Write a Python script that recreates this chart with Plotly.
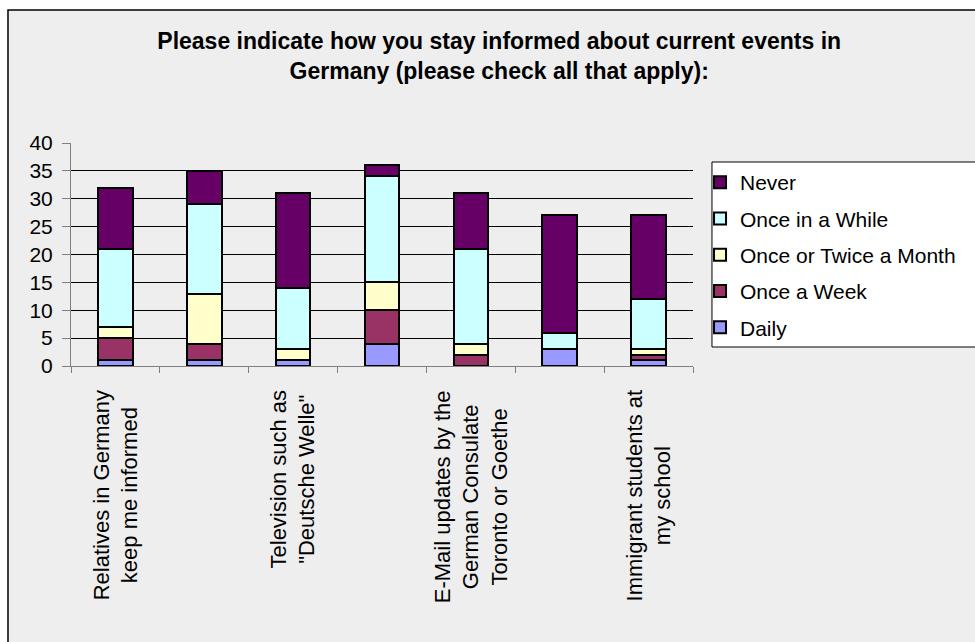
import plotly.graph_objects as go

# Survey: how respondents stay informed about current events in Germany
categories = [
    "Relatives in Germany<br>keep me informed",
    "",
    "Television such as<br>\"Deutsche Welle\"",
    "",
    "E-Mail updates by the<br>German Consulate<br>Toronto or Goethe",
    "",
    "Immigrant students at<br>my school",
]

daily = [1, 1, 1, 4, 0, 3, 1]
once_a_week = [4, 3, 0, 6, 2, 0, 1]
once_or_twice_a_month = [2, 9, 2, 5, 2, 0, 1]
once_in_a_while = [14, 16, 11, 19, 17, 3, 9]
never = [11, 6, 17, 2, 10, 21, 15]

series = [
    ("Daily", daily, "#9999FF"),
    ("Once a Week", once_a_week, "#993366"),
    ("Once or Twice a Month", once_or_twice_a_month, "#FFFFCC"),
    ("Once in a While", once_in_a_while, "#CCFFFF"),
    ("Never", never, "#660066"),
]

y_ticks = [0, 5, 10, 15, 20, 25, 30, 35, 40]

FONT = "Liberation Sans, Arial, sans-serif"
x_pos = list(range(len(categories)))

fig = go.Figure()
n = len(series)
for k, (name, vals, color) in enumerate(series):
    fig.add_trace(go.Bar(
        x=x_pos, y=vals, name=name, legendgroup=name,
        legendrank=n - k,  # top of the stack listed first
        width=0.39,
        marker=dict(color=color, line=dict(color="black", width=2)),
    ))

# Category labels, rotated and centred under each labelled bar
for i, label in enumerate(categories):
    if label:
        fig.add_annotation(
            x=i, y=-0.098, xref="x", yref="paper",
            text=label, textangle=-90, showarrow=False,
            xanchor="center", yanchor="top", align="center",
            font=dict(family=FONT, size=22, color="black"),
        )

# Chart frame and legend box
fig.add_shape(type="rect", xref="paper", yref="paper",
              x0=-0.1013, x1=1.5, y0=-1.5, y1=1.5964,
              fillcolor="#EEEEEE", line=dict(color="black", width=1.5),
              layer="below")
fig.add_shape(type="rect", xref="paper", yref="paper",
              x0=1.0305, x1=1.5, y0=0.0852, y1=0.9148,
              fillcolor="white", line=dict(color="black", width=1),
              layer="below")

fig.update_layout(
    width=975, height=642,
    barmode="stack",
    paper_bgcolor="white",
    plot_bgcolor="rgba(0,0,0,0)",
    margin=dict(l=71, r=282, t=143, b=276, autoexpand=False),
    title=dict(
        text="Please indicate how you stay informed about current events in<br>"
             "Germany (please check all that apply):",
        x=0.512, y=0.923, xref="container", yref="container",
        xanchor="center", yanchor="middle",
        font=dict(family=FONT, size=23, color="black", weight="bold"),
    ),
    font=dict(family=FONT, color="black"),
    showlegend=True,
    legend=dict(
        x=1.0113, y=0.9148, xanchor="left", yanchor="top",
        xref="paper", yref="paper",
        bgcolor="rgba(0,0,0,0)", borderwidth=0,
        traceorder="grouped", tracegroupgap=6,
        font=dict(family=FONT, size=21, color="black"),
    ),
    xaxis=dict(
        range=[-0.5, 6.5],
        tickmode="array",
        tickvals=[v - 0.5 for v in range(len(categories) + 1)],
        showticklabels=False,
        ticks="outside", ticklen=6, tickcolor="#808080", tickwidth=1,
        showline=True, linecolor="#808080", linewidth=1,
        showgrid=False, zeroline=False,
    ),
    yaxis=dict(
        range=[0, 40],
        tickmode="array", tickvals=y_ticks,
        ticks="outside", ticklen=8, tickcolor="#808080", tickwidth=1,
        ticklabelstandoff=5,
        showline=True, linecolor="#808080", linewidth=1,
        showgrid=True, gridcolor="black", gridwidth=1,
        zeroline=False,
        tickfont=dict(family=FONT, size=21, color="black"),
    ),
)

fig.write_html("out.html")
